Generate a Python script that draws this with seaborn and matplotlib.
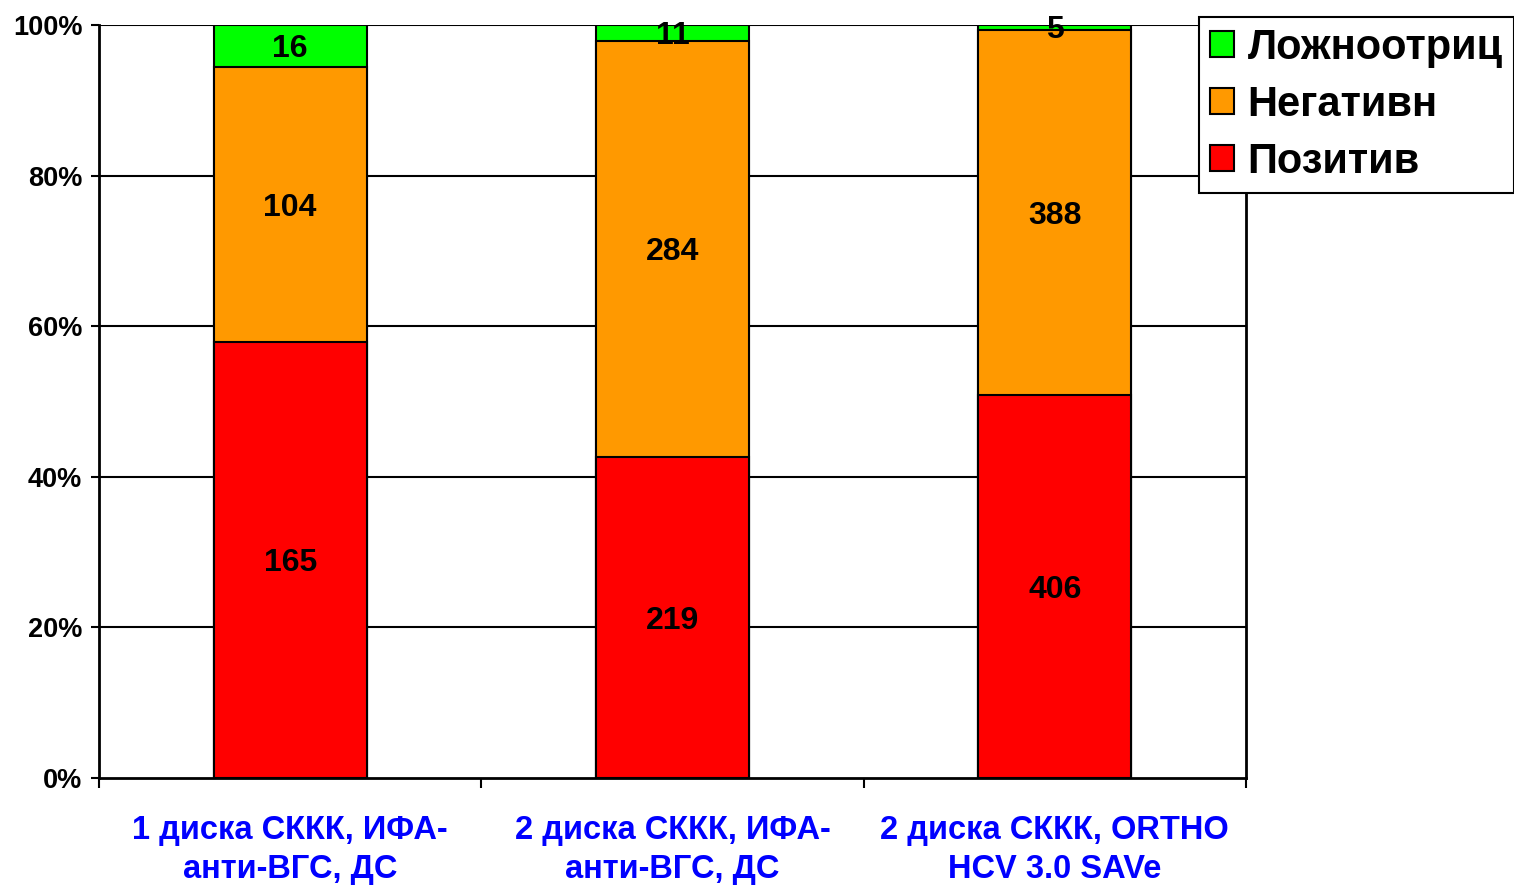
import numpy as np
import pandas as pd
import matplotlib
matplotlib.use("Agg")
import matplotlib.pyplot as plt
from matplotlib.ticker import PercentFormatter, FixedLocator
from matplotlib.patches import Patch
import seaborn as sns

categories = [
    "1 диска СККК, ИФА-\nанти-ВГС, ДС",
    "2 диска СККК, ИФА-\nанти-ВГС, ДС",
    "2 диска СККК, ORTHO\nHCV 3.0 SAVe",
]
positive = [165, 219, 406]
negative = [104, 284, 388]
false_neg = [16, 11, 5]
series_names = ["Позитив", "Негативн", "Ложноотриц"]
series_colors = ["#FF0000", "#FF9900", "#00FF00"]

sns.set_theme(style="white")
plt.rcParams["font.family"] = ["Liberation Sans", "DejaVu Sans"]
plt.rcParams["font.weight"] = "bold"
plt.rcParams["text.color"] = "black"
plt.rcParams["axes.labelcolor"] = "black"
plt.rcParams["xtick.color"] = "black"
plt.rcParams["ytick.color"] = "black"

pos = np.array(positive, float)
neg = np.array(negative, float)
fn = np.array(false_neg, float)
total = pos + neg + fn
shares = [pos / total * 100, neg / total * 100, fn / total * 100]
cum = np.cumsum(shares, axis=0)

df = pd.DataFrame({"cat": categories})

fig = plt.figure(figsize=(15.14, 8.85), dpi=100)
ax = fig.add_axes([99 / 1514, 1 - 778 / 885, (1246 - 99) / 1514, (778 - 25) / 885])

# Gridlines under the bars
for yv in range(20, 101, 20):
    ax.axhline(yv, color="black", lw=1.5, zorder=0)

# Stacked bars drawn from the top segment downwards so that each
# lower segment covers the part of the taller bar beneath it
for i in reversed(range(3)):
    df["top"] = cum[i]
    sns.barplot(data=df, x="cat", y="top", color=series_colors[i],
                width=0.40, edgecolor="black", linewidth=1.5,
                saturation=1, ax=ax, zorder=2)

# Segment value labels
raw = [pos, neg, fn]
for i in range(3):
    bottom = cum[i] - shares[i]
    for j in range(3):
        yc = bottom[j] + shares[i][j] / 2
        ax.text(j, yc - 0.4, f"{int(raw[i][j])}", ha="center", va="center",
                fontsize=23, fontweight="bold", color="black", zorder=5)

ax.set_xlim(-0.5, 2.5)
ax.set_ylim(0, 100)
ax.set_xlabel("")
ax.set_ylabel("")

ax.yaxis.set_major_locator(FixedLocator([0, 20, 40, 60, 80, 100]))
ax.yaxis.set_major_formatter(PercentFormatter(decimals=0))
ax.tick_params(axis="y", which="major", length=6, width=1.5, color="black",
               direction="out", pad=6, labelsize=19.5, left=True,
               labelcolor="black")

ax.set_xticks([-0.5, 0.5, 1.5, 2.5])
ax.set_xticklabels([])
ax.set_xticks([0, 1, 2], minor=True)
ax.set_xticklabels(categories, minor=True, fontsize=23.5, fontweight="bold",
                   color="#0000FF", linespacing=1.32)
ax.tick_params(axis="x", which="major", length=7, width=1.5, color="black",
               direction="out", bottom=True)
ax.tick_params(axis="x", which="minor", length=0, pad=27)

for side in ["left", "bottom", "right"]:
    ax.spines[side].set_visible(True)
    ax.spines[side].set_color("black")
    ax.spines[side].set_linewidth(2)
ax.spines["top"].set_visible(False)

for lbl in ax.get_yticklabels():
    lbl.set_fontweight("bold")
    lbl.set_color("black")

handles = [Patch(facecolor=series_colors[i], edgecolor="black", linewidth=1.5)
           for i in [2, 1, 0]]
labels = [series_names[i] for i in [2, 1, 0]]
leg = fig.legend(handles, labels, loc="upper left",
                 bbox_to_anchor=(1199 / 1514, 1 - 17 / 885),
                 prop={"size": 30, "weight": "bold"}, frameon=True,
                 fancybox=False, edgecolor="black", framealpha=1,
                 handlelength=0.58, handleheight=0.58, handletextpad=0.33,
                 labelspacing=0.41, borderpad=0.26, borderaxespad=0,
                 labelcolor="black")
leg.get_frame().set_linewidth(1.5)

fig.savefig("out.png", dpi=100)
